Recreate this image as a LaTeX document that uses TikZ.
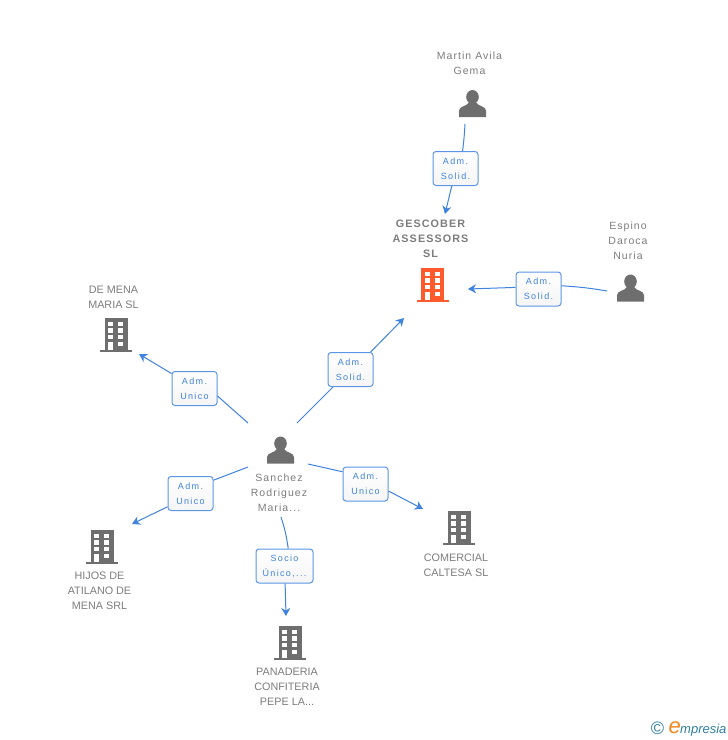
\documentclass[tikz,border=0pt]{standalone}
\usepackage{fontspec}
\usepackage{xcolor}
\usetikzlibrary{arrows.meta}
\setmainfont{Liberation Sans}
\newfontfamily\spaced[LetterSpace=10]{Liberation Sans}
\newfontfamily\wide[LetterSpace=15]{Liberation Sans}
\definecolor{linkblue}{HTML}{3F82E0}
\definecolor{icongrey}{HTML}{6E6E6E}
\definecolor{textgrey}{HTML}{7C7C7C}
\definecolor{buildred}{HTML}{FF5A2B}
\definecolor{logoblue}{HTML}{2F7F9F}
\definecolor{logoorange}{HTML}{F08A1D}
\tikzset{
    role/.style={draw=linkblue!85,line width=1pt,rounded corners=3pt,top color=white,bottom color=black!4,
        text=linkblue,font=\wide\fontsize{9}{15}\selectfont,align=center,minimum height=34pt,inner sep=0pt,text width=45pt},
    caption/.style={text=textgrey,font=\fontsize{10.8}{15}\selectfont,align=center,inner sep=0pt},
    personname/.style={caption,font=\spaced\fontsize{10.5}{15}\selectfont},
    link/.style={draw=linkblue,line width=1pt},
    linktip/.style={link,-{Stealth[length=8pt,width=9pt,inset=2.5pt]}}
}
\newcommand{\person}[2]{%
    \begin{scope}[shift={(#1,#2)}]
        \fill[icongrey] (0,-6.5) ellipse (6.3 and 7);
        \fill[icongrey] (-13.5,13.5) -- (-13.5,7) .. controls (-13,2.5) and (-6,3) .. (-3.5,-1) -- (3.5,-1)
            .. controls (6,3) and (13,2.5) .. (13.5,7) -- (13.5,13.5) -- cycle;
    \end{scope}}
\newcommand{\building}[3]{%
    \begin{scope}[shift={(#1,#2)}]
        \fill[#3] (-16,14.5) rectangle (16,17);
        \fill[#3] (-11.5,-17) rectangle (11.5,15);
        \foreach \yy in {-13.3,-6.7,0} {
            \fill[white] (-7.7,\yy) rectangle (-2.7,\yy+4.4);
            \fill[white] (2.3,\yy) rectangle (7.3,\yy+4.4);
        }
        \fill[white] (-7.7,6.7) rectangle (-2.7,14.5);
        \fill[white] (2.3,6.7) rectangle (7.3,11.1);
    \end{scope}}
\begin{document}
\begin{tikzpicture}[x=1pt,y=-1pt]
    \useasboundingbox (0,0) rectangle (728,740);
    % icons
    \person{472.5}{103.5}
    \person{630.5}{288}
    \person{280.5}{450}
    \building{432.5}{285}{buildred}
    \building{116}{335}{icongrey}
    \building{102}{547}{icongrey}
    \building{459}{528}{icongrey}
    \building{290}{643}{icongrey}
    % names
    \node[personname] (martin) at (469.5,63) {Martin Avila\\Gema};
    \node[personname] (espino) at (628,241) {Espino\\Daroca\\Nuria};
    \node[personname] (sanchez) at (279,493) {Sanchez\\Rodriguez\\Maria...};
    \node[caption,font=\spaced\fontsize{10.8}{15}\selectfont\bfseries] (gescober) at (430.5,239) {GESCOBER\\ASSESSORS\\SL};
    \node[caption] (demena) at (113.5,297) {DE MENA\\MARIA SL};
    \node[caption] (hijos) at (99.5,591) {HIJOS DE\\ATILANO DE\\MENA SRL};
    \node[caption] (comercial) at (456,565) {COMERCIAL\\CALTESA SL};
    \node[caption] (panaderia) at (287,687) {PANADERIA\\CONFITERIA\\PEPE LA...};
    % roles
    \node[role] (rolemartin) at (455.5,168.5) {Adm.\\Solid.};
    \node[role] (roleespino) at (538.5,289) {Adm.\\Solid.};
    \node[role] (rolegescober) at (350.5,369.5) {Adm.\\Solid.};
    \node[role] (roledemena) at (194.5,388.5) {Adm.\\Unico};
    \node[role] (rolehijos) at (190.5,493.5) {Adm.\\Unico};
    \node[role] (rolecomercial) at (365.5,484) {Adm.\\Unico};
    \node[role,text width=57pt] (rolepanaderia) at (284.5,566) {Socio\\Único,...};
    % free ends
    \coordinate (frommartin) at (465,124);
    \coordinate (tomartin) at (445,214);
    \coordinate (fromespino) at (607,291);
    \coordinate (toespino) at (468,289);
    \coordinate (fromgescober) at (297,423);
    \coordinate (togescober) at (404,318);
    \coordinate (fromdemena) at (248,423);
    \coordinate (todemena) at (139,354);
    \coordinate (fromhijos) at (248,467);
    \coordinate (tohijos) at (132,524);
    \coordinate (fromcomercial) at (308,464);
    \coordinate (tocomercial) at (423,509);
    \coordinate (frompanaderia) at (281,517);
    \coordinate (topanaderia) at (286,616);
    % links
    \draw[link] (frommartin) to[bend left=2] (rolemartin.68);
    \draw[linktip] (rolemartin.-102) -- (tomartin);
    \draw[link] (fromespino) to[bend right=3] (roleespino.8);
    \draw[linktip] (roleespino.176) -- (toespino);
    \draw[link] (fromgescober) -- (rolegescober.-135);
    \draw[linktip] (rolegescober.41) -- (togescober);
    \draw[link] (fromdemena) -- (roledemena.-18);
    \draw[linktip] (roledemena.147) -- (todemena);
    \draw[link] (fromhijos) -- (rolehijos.30);
    \draw[linktip] (rolehijos.-150) -- (tohijos);
    \draw[link] (fromcomercial) -- (rolecomercial.152);
    \draw[linktip] (rolecomercial.-17) -- (tocomercial);
    \draw[link] (frompanaderia) to[bend left=5] (rolepanaderia.78);
    \draw[linktip] (rolepanaderia.-88) -- (topanaderia);
    % logo
    \node[inner sep=0pt,text=logoblue,font=\fontsize{18}{18}\selectfont] (copyright) at (657.5,728) {©};
    \node[inner sep=0pt,text=logoblue,font=\fontsize{13}{13}\selectfont\itshape,anchor=base west] (logotext) at (680,733)
        {mpresia};
    \node[inner sep=0pt,text=logoorange,font=\fontsize{22}{22}\selectfont\itshape,anchor=base east,xshift=1pt] (logoe) at (logotext.base west) {e};
\end{tikzpicture}
\end{document}
